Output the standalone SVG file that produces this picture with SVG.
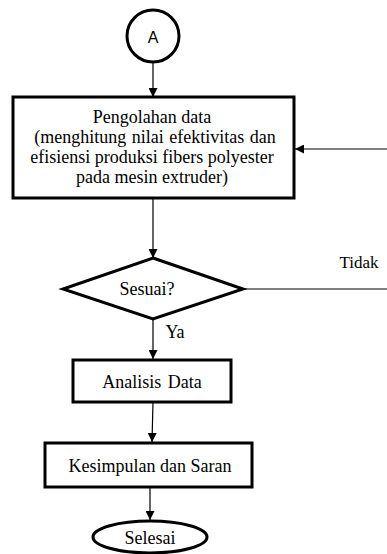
<svg xmlns="http://www.w3.org/2000/svg" width="387" height="554" viewBox="0 0 387 554">
<defs>
<marker id="ah" viewBox="0 0 10 10" refX="10" refY="5" markerWidth="9" markerHeight="9" markerUnits="userSpaceOnUse" orient="auto">
<path d="M0,0 L10,5 L0,10 z" fill="#000"/>
</marker>
</defs>
<style>
.n{fill:#fff;stroke:#000;stroke-width:3}
.c{stroke:#000;stroke-width:1.2;fill:none}
text{font-family:"Liberation Serif","Times New Roman",serif;font-size:18px;text-anchor:middle;fill:#000}
</style>
<g id="connectors">
<line class="c" x1="153" y1="62" x2="153" y2="97" marker-end="url(#ah)"/>
<line class="c" x1="387" y1="149" x2="295" y2="149" marker-end="url(#ah)"/>
<line class="c" x1="153" y1="199" x2="153" y2="258" marker-end="url(#ah)"/>
<line class="c" x1="244" y1="289" x2="387" y2="289"/>
<line class="c" x1="153" y1="320" x2="153" y2="359" marker-end="url(#ah)"/>
<line class="c" x1="153" y1="402" x2="152" y2="442" marker-end="url(#ah)"/>
<line class="c" x1="150" y1="488" x2="150" y2="520" marker-end="url(#ah)"/>
<text x="359" y="268" style="font-size:17px">Tidak</text>
<text x="175" y="338">Ya</text>
</g>
<g id="nodeA">
<circle class="n" cx="153" cy="36" r="26"/>
<text x="153" y="43" style="font-family:'Liberation Sans',Arial,sans-serif;font-size:16px">A</text>
</g>
<g id="pengolahan">
<rect class="n" x="13" y="97" width="281" height="101"/>
<text x="152" y="123">Pengolahan data</text>
<text x="155" y="143" word-spacing="1">(menghitung nilai efektivitas dan</text>
<text x="152" y="163">efisiensi produksi fibers polyester</text>
<text x="152" y="183">pada mesin extruder)</text>
</g>
<g id="sesuai">
<polygon class="n" points="153,258 243,289 153,319 63,289"/>
<text x="147" y="295">Sesuai?</text>
</g>
<g id="analisis">
<rect class="n" x="73" y="360" width="158" height="42"/>
<text x="152" y="388" word-spacing="2">Analisis Data</text>
</g>
<g id="kesimpulan">
<rect class="n" x="45" y="443" width="207" height="44"/>
<text x="150" y="472">Kesimpulan dan Saran</text>
</g>
<g id="selesai">
<ellipse class="n" cx="150" cy="537" rx="57" ry="16"/>
<text x="150" y="544">Selesai</text>
</g>
</svg>
